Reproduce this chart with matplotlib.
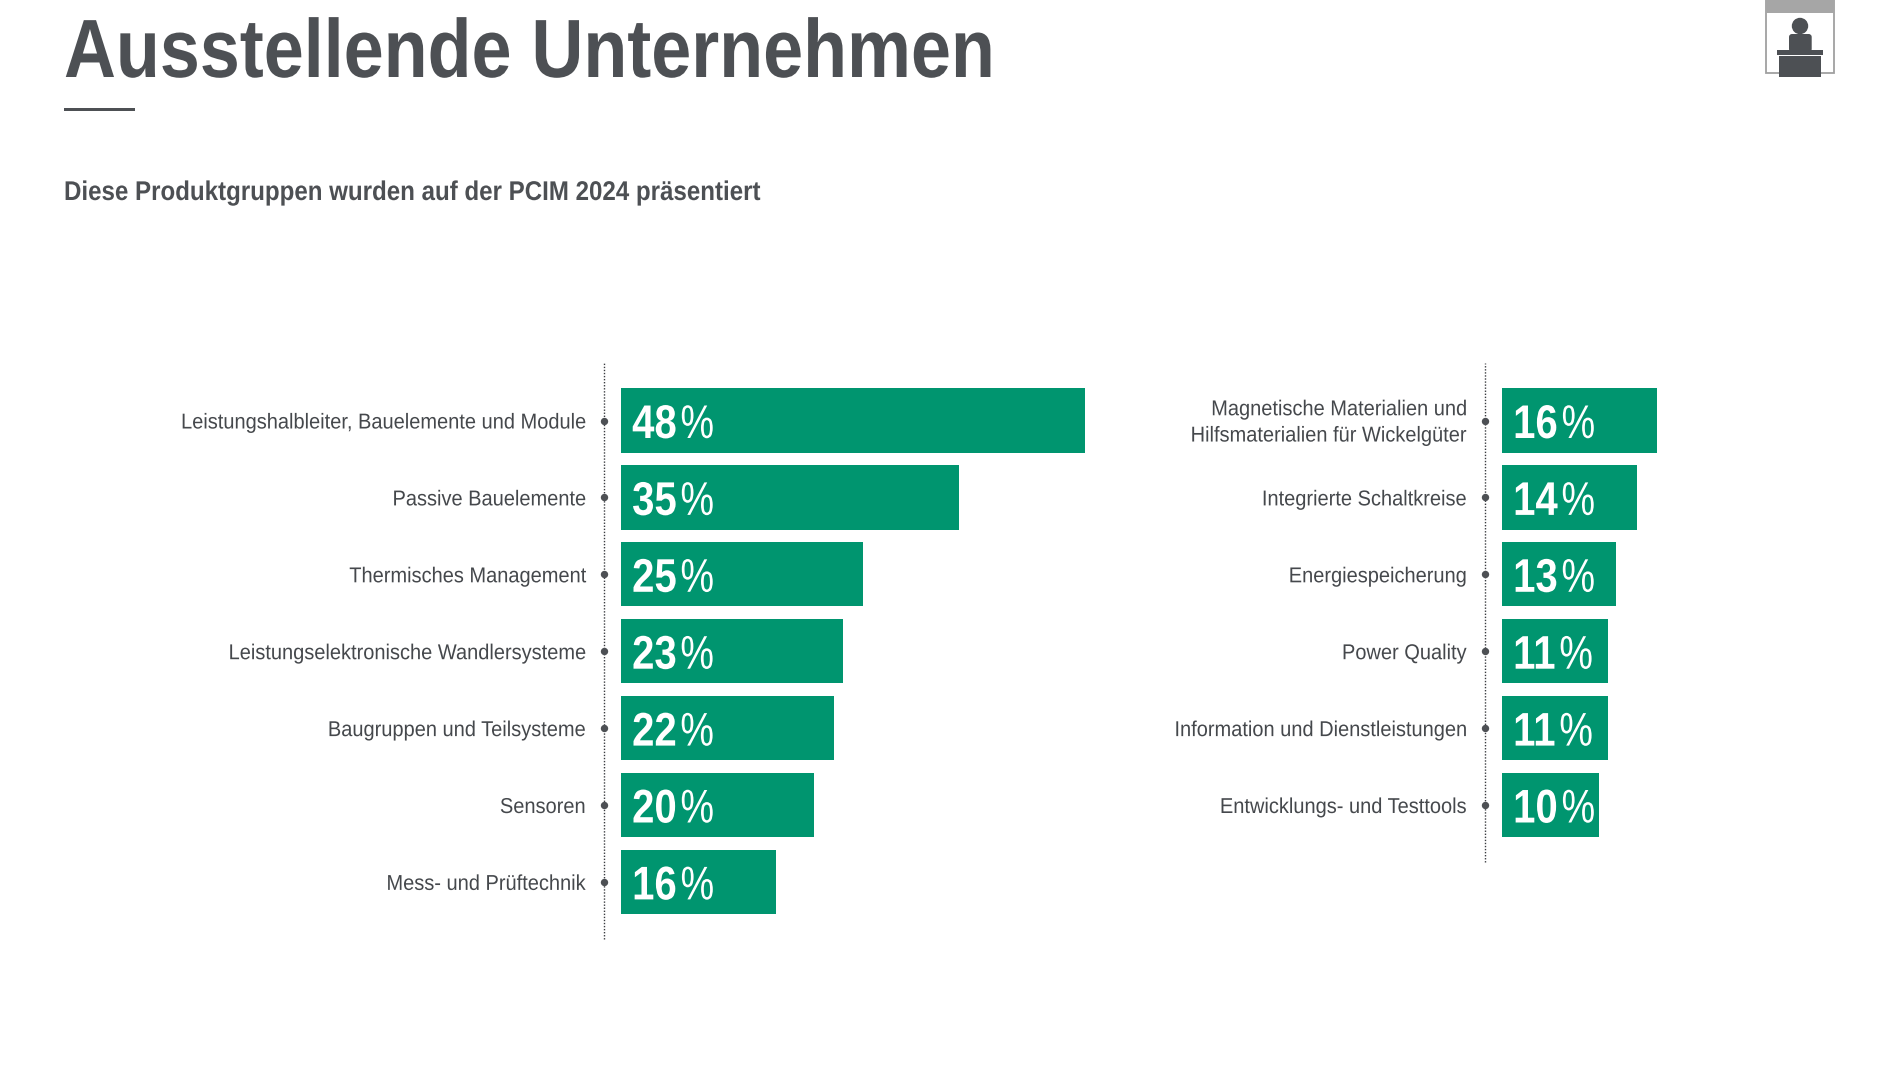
import matplotlib
matplotlib.use("Agg")
import matplotlib.pyplot as plt
from matplotlib.backends.backend_agg import RendererAgg
from matplotlib.patches import Rectangle, Circle, FancyBboxPatch
from matplotlib.textpath import TextPath
from matplotlib.transforms import Affine2D

W, H = 1900, 1069
INK = "#4d5054"
GREEN = "#00956f"

title = "Ausstellende Unternehmen"
subtitle = "Diese Produktgruppen wurden auf der PCIM 2024 präsentiert"

left_labels = ["Leistungshalbleiter, Bauelemente und Module", "Passive Bauelemente",
               "Thermisches Management", "Leistungselektronische Wandlersysteme",
               "Baugruppen und Teilsysteme", "Sensoren", "Mess- und Prüftechnik"]
left_values = [48, 35, 25, 23, 22, 20, 16]
left_text = ["48", "35", "25", "23", "22", "20", "16"]

right_labels = ["Magnetische Materialien und\nHilfsmaterialien für Wickelgüter",
                "Integrierte Schaltkreise", "Energiespeicherung", "Power Quality",
                "Information und Dienstleistungen", "Entwicklungs- und Testtools"]
right_values = [16, 14, 11.8, 11, 11, 10]
right_text = ["16", "14", "13", "11", "11", "10"]

# No condensed face is installed, so text is condensed at draw time: the
# horizontal scale is chosen from the font size of each text style.
SIZE_TITLE, SIZE_SUB, SIZE_LABEL, SIZE_NUM, SIZE_PCT = 59.5, 19.5, 15.5, 34.0, 34.01
XSCALE = {SIZE_TITLE: 0.87, SIZE_SUB: 0.89, SIZE_LABEL: 0.93, SIZE_NUM: 0.85, SIZE_PCT: 0.80}

_orig_metrics = RendererAgg.get_text_width_height_descent

def _metrics(self, s, prop, ismath):
    w, h, d = _orig_metrics(self, s, prop, ismath)
    return w * XSCALE.get(prop.get_size_in_points(), 1.0), h, d

def _draw_text(self, gc, x, y, s, prop, angle, ismath=False, mtext=None):
    sx = XSCALE.get(prop.get_size_in_points(), 1.0)
    path = TextPath((0, 0), s, prop=prop)
    k = self.dpi / 72
    tr = Affine2D().scale(sx * k, k).rotate_deg(angle).translate(x, self.height - y)
    gc.set_linewidth(0)
    self.draw_path(gc, path, tr, gc.get_rgb())

RendererAgg.get_text_width_height_descent = _metrics
RendererAgg.draw_text = _draw_text

plt.rcParams["font.family"] = ["Liberation Sans"]
fig = plt.figure(figsize=(W / 100, H / 100), dpi=100, facecolor="white")

PX_PER_UNIT = 9.67
PITCH = 76.9
FIRST = 420.5

def panel(spine_x, bar_x, top, bottom, right_px, labels, values, texts):
    ax = fig.add_axes([spine_x / W, 1 - bottom / H, (right_px - spine_x) / W, (bottom - top) / H])
    ax.patch.set_visible(False)
    ax.set_xlim(-(bar_x - spine_x) / PX_PER_UNIT, (right_px - bar_x) / PX_PER_UNIT)
    ax.set_ylim((bottom - FIRST) / PITCH, (top - FIRST) / PITCH)
    pos = list(range(len(values)))
    ax.barh(pos, values, height=0.835, color=GREEN, linewidth=0)
    for s in ("top", "right", "bottom"):
        ax.spines[s].set_visible(False)
    sp = ax.spines["left"]
    sp.set_linewidth(1.0)
    sp.set_linestyle((0, (1, 1.2)))
    sp.set_capstyle("butt")
    sp.set_color("#3a3c40")
    ax.set_xticks([])
    ax.set_yticks(pos, labels)
    ax.tick_params(axis="y", length=0, pad=13.5, labelsize=SIZE_LABEL, labelcolor="#45484c")
    for lab in ax.get_yticklabels():
        lab.set_multialignment("right")
        lab.set_linespacing(1.33)
        if "\n" in lab.get_text():
            lab.set_verticalalignment("center")
            lab.set_transform(lab.get_transform() + Affine2D().translate(0, -2.4))
    ax.plot([ax.get_xlim()[0]] * len(pos), pos, "o", ms=5.3, mew=0, color=INK, clip_on=False, zorder=5)
    for p, t in zip(pos, texts):
        num = ax.annotate(t, xy=(0, p), xytext=(8, -12.6), textcoords="offset points",
                          color="white", fontsize=SIZE_NUM, fontweight="bold", va="baseline", ha="left")
        ax.annotate("%", xy=(1, 0), xycoords=num, xytext=(2.6, 0), textcoords="offset points",
                    color="white", fontsize=SIZE_PCT, va="bottom", ha="left")
    return ax

panel(604, 621, 363, 939, 1150, left_labels, left_values, left_text)
panel(1485, 1502, 363, 862, 1760, right_labels, right_values, right_text)

# overlay in pixel coordinates for title furniture and the icon
ov = fig.add_axes([0, 0, 1, 1], zorder=10)
ov.set_xlim(0, W)
ov.set_ylim(H, 0)
ov.axis("off")
ov.text(64, 77, title, fontsize=SIZE_TITLE, fontweight="bold", color=INK, va="baseline", ha="left")
ov.add_patch(Rectangle((64, 107.5), 71, 3, color=INK, lw=0))
ov.text(64, 200, subtitle, fontsize=SIZE_SUB, fontweight="bold", color=INK, va="baseline", ha="left")

ov.add_patch(Rectangle((1766, -2), 68, 75, fc="white", ec="#a0a0a0", lw=1.3))
ov.add_patch(Rectangle((1766, 0), 68, 12.7, fc="#a6a6a6", lw=0))
ov.add_patch(Circle((1800, 26), 8.2, fc=INK, lw=0))
ov.add_patch(FancyBboxPatch((1789, 34), 22.7, 18, boxstyle="round,pad=0,rounding_size=3", fc=INK, lw=0))
ov.add_patch(Rectangle((1777, 49.7), 46, 5.3, fc=INK, lw=0))
ov.add_patch(Rectangle((1779, 55.8), 42, 21.2, fc=INK, lw=0))

fig.savefig("out.png", dpi=100, facecolor="white")
